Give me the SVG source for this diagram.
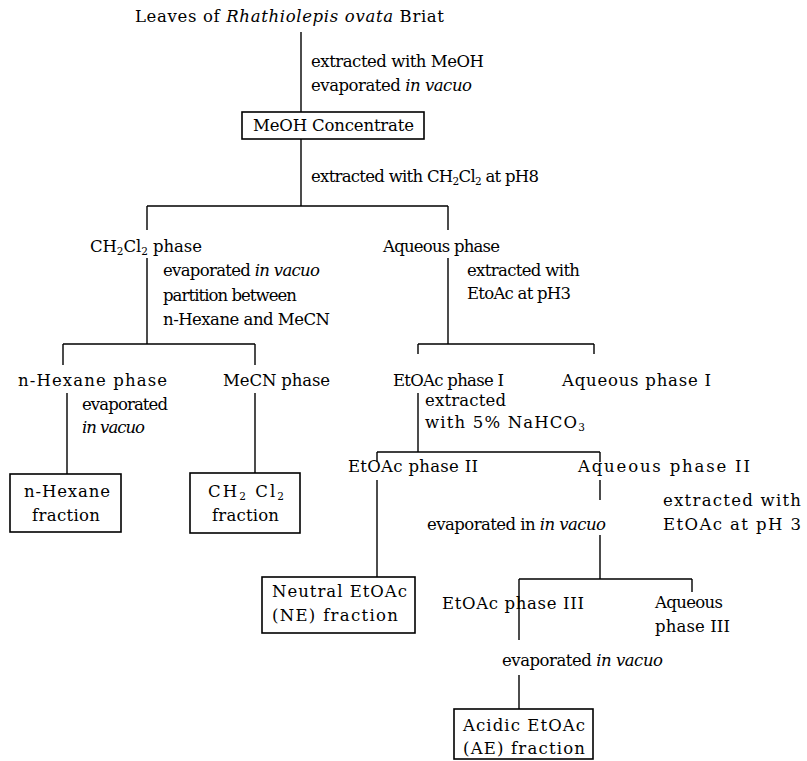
<svg xmlns="http://www.w3.org/2000/svg" width="807" height="761" viewBox="0 0 807 761">
<style>
text{font-family:"DejaVu Serif","Liberation Serif",serif;font-size:16.5px;fill:#000}
.i{font-style:italic}
.s{font-size:10.5px}
.box{fill:#fff;stroke:#000;stroke-width:1.6}
.ln{fill:none;stroke:#000;stroke-width:1.4}
</style>
<rect width="807" height="761" fill="#fff"/>
<g id="connectors" class="ln">
<path d="M301 32V112"/>
<path d="M301 139V206M147 206H448M147 206V230M448 206V230"/>
<path d="M147 258V344M63 344H255M63 344V365M255 344V365"/>
<path d="M448 258V344M418 344H594M418 344V354M594 344V354"/>
<path d="M67 393V474M255 393V473"/>
<path d="M418 393V452M377 452H600M377 452V462M600 452V462"/>
<path d="M377 480V577"/>
<path d="M600 480V500M600 535V579M519 579H692M519 579V640M692 579V592"/>
<path d="M519 675V709"/>
</g>
<g id="leaves"><text x="135" y="22" textLength="309" lengthAdjust="spacing">Leaves of <tspan class="i">Rhathiolepis ovata</tspan> Briat</text></g>
<g id="step1"><text x="311" y="67" textLength="173" lengthAdjust="spacing">extracted with MeOH</text><text x="311" y="91" textLength="161" lengthAdjust="spacing">evaporated <tspan class="i">in vacuo</tspan></text></g>
<g id="meoh"><rect class="box" x="242" y="112" width="182" height="27"/><text x="253" y="131" textLength="161" lengthAdjust="spacing">MeOH Concentrate</text></g>
<g id="step2"><text x="311" y="182" textLength="228" lengthAdjust="spacing">extracted with CH<tspan class="s" dy="3">2</tspan><tspan dy="-3">Cl</tspan><tspan class="s" dy="3">2</tspan><tspan dy="-3"> at pH8</tspan></text></g>
<g id="ch2cl2phase"><text x="90" y="252" textLength="112" lengthAdjust="spacing">CH<tspan class="s" dy="3">2</tspan><tspan dy="-3">Cl</tspan><tspan class="s" dy="3">2</tspan><tspan dy="-3"> phase</tspan></text>
<text x="163" y="276" textLength="157" lengthAdjust="spacing">evaporated <tspan class="i">in vacuo</tspan></text><text x="163" y="301" textLength="134" lengthAdjust="spacing">partition between</text><text x="163" y="325" textLength="167" lengthAdjust="spacing">n-Hexane and MeCN</text></g>
<g id="aqphase"><text x="383" y="252" textLength="117" lengthAdjust="spacing">Aqueous phase</text><text x="467" y="276" textLength="113" lengthAdjust="spacing">extracted with</text><text x="467" y="299" textLength="104" lengthAdjust="spacing">EtoAc at pH3</text></g>
<g id="hexphase"><text x="18" y="386" textLength="149" lengthAdjust="spacing">n-Hexane phase</text><text x="82" y="410" textLength="86" lengthAdjust="spacing">evaporated</text><text x="82" y="433" class="i" textLength="63" lengthAdjust="spacing">in vacuo</text></g>
<g id="mecnphase"><text x="223" y="386" textLength="107" lengthAdjust="spacing">MeCN phase</text></g>
<g id="etoac1"><text x="393" y="386" textLength="111" lengthAdjust="spacing">EtOAc phase I</text><text x="425" y="406" textLength="81" lengthAdjust="spacing">extracted</text><text x="425" y="428" textLength="160" lengthAdjust="spacing">with 5% NaHCO<tspan class="s" dy="3">3</tspan></text></g>
<g id="aq1"><text x="562" y="386" textLength="149" lengthAdjust="spacing">Aqueous phase I</text></g>
<g id="hexfrac"><rect class="box" x="10" y="474" width="111" height="58"/><text x="24" y="497" textLength="86" lengthAdjust="spacing">n-Hexane</text><text x="32" y="521" textLength="68" lengthAdjust="spacing">fraction</text></g>
<g id="ch2cl2frac"><rect class="box" x="190" y="473" width="110" height="60"/><text x="208" y="497" textLength="76" lengthAdjust="spacing">CH<tspan class="s" dy="3">2</tspan><tspan dy="-3"> Cl</tspan><tspan class="s" dy="3">2</tspan></text><text x="212" y="521" textLength="67" lengthAdjust="spacing">fraction</text></g>
<g id="etoac2"><text x="348" y="472" textLength="130" lengthAdjust="spacing">EtOAc phase II</text></g>
<g id="aq2"><text x="578" y="472" textLength="172" lengthAdjust="spacing">Aqueous phase II</text><text x="663" y="506" textLength="138" lengthAdjust="spacing">extracted with</text><text x="663" y="530" textLength="138" lengthAdjust="spacing">EtOAc at pH 3</text><text x="427" y="530" textLength="179" lengthAdjust="spacing">evaporated in <tspan class="i">in vacuo</tspan></text></g>
<g id="nefrac"><rect class="box" x="262" y="577" width="153" height="56"/><text x="272" y="597" textLength="135" lengthAdjust="spacing">Neutral EtOAc</text><text x="272" y="621" textLength="126" lengthAdjust="spacing">(NE) fraction</text></g>
<g id="etoac3"><text x="442" y="609" textLength="142" lengthAdjust="spacing">EtOAc phase III</text><text x="502" y="666" textLength="161" lengthAdjust="spacing">evaporated <tspan class="i">in vacuo</tspan></text></g>
<g id="aq3"><text x="655" y="608" textLength="68" lengthAdjust="spacing">Aqueous</text><text x="655" y="632" textLength="75" lengthAdjust="spacing">phase III</text></g>
<g id="aefrac"><rect class="box" x="454" y="709" width="139" height="50"/><text x="463" y="731" textLength="122" lengthAdjust="spacing">Acidic EtOAc</text><text x="463" y="754" textLength="122" lengthAdjust="spacing">(AE) fraction</text></g>
</svg>
